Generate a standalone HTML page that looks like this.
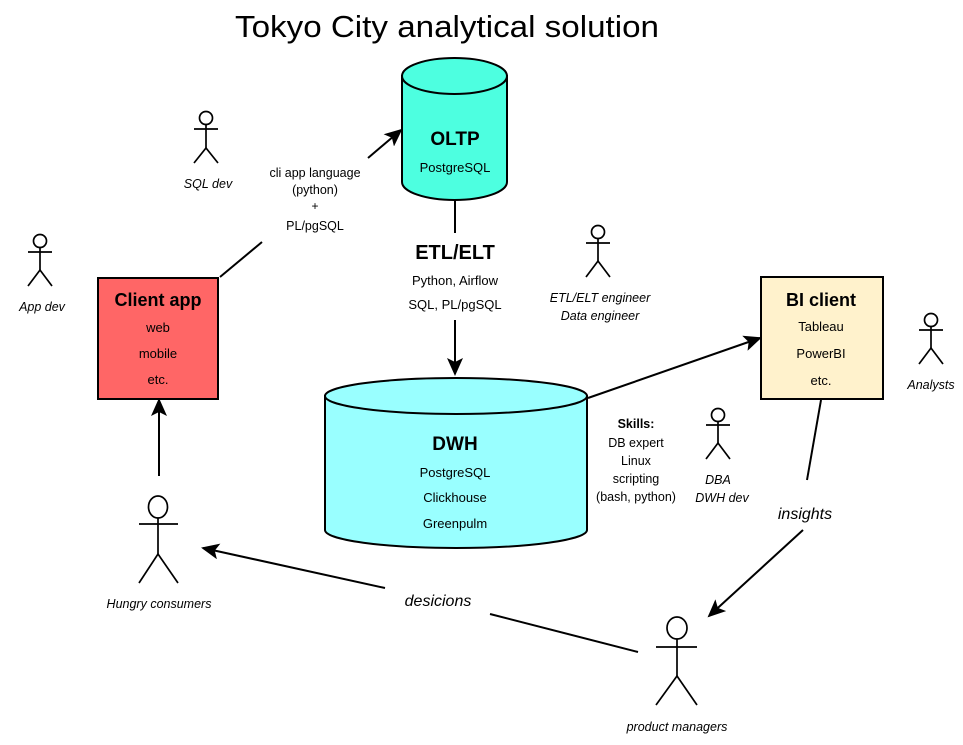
<!DOCTYPE html>
<html><head><meta charset="utf-8"><style>
html,body{margin:0;padding:0;background:#fff;}
svg{display:block;}
text{font-family:"Liberation Sans",sans-serif;fill:#000;}
.i{font-style:italic;}
</style></head><body>
<svg width="963" height="745" viewBox="0 0 963 745" xmlns="http://www.w3.org/2000/svg">
<defs>
<marker id="a" markerWidth="18" markerHeight="16" refX="16" refY="8" orient="auto" markerUnits="userSpaceOnUse">
<path d="M0,0 L18,8 L0,16 L4,8 Z" fill="#000"/>
</marker>
</defs>
<text x="447" y="37" font-size="31" text-anchor="middle" textLength="424" lengthAdjust="spacingAndGlyphs">Tokyo City analytical solution</text>

<!-- OLTP cylinder -->
<path d="M402,76 L402,182 A52.5,18 0 0 0 507,182 L507,76 Z" fill="#4DFFE0" stroke="#000" stroke-width="2"/>
<ellipse cx="454.5" cy="76" rx="52.5" ry="18" fill="#4DFFE0" stroke="#000" stroke-width="2"/>
<text x="455" y="145" font-size="19" font-weight="bold" text-anchor="middle">OLTP</text>
<text x="455" y="172" font-size="13" text-anchor="middle">PostgreSQL</text>

<!-- ETL -->
<line x1="455" y1="200" x2="455" y2="233" stroke="#000" stroke-width="2"/>
<text x="455" y="259" font-size="20" font-weight="bold" text-anchor="middle">ETL/ELT</text>
<text x="455" y="285" font-size="13" text-anchor="middle">Python, Airflow</text>
<text x="455" y="309" font-size="13" text-anchor="middle">SQL, PL/pgSQL</text>
<line x1="455" y1="320" x2="455" y2="374" stroke="#000" stroke-width="2" marker-end="url(#a)"/>

<!-- DWH cylinder -->
<path d="M325,396 L325,530 A131,18 0 0 0 587,530 L587,396 Z" fill="#99FFFF" stroke="#000" stroke-width="2"/>
<ellipse cx="456" cy="396" rx="131" ry="18" fill="#99FFFF" stroke="#000" stroke-width="2"/>
<text x="455" y="450" font-size="19" font-weight="bold" text-anchor="middle">DWH</text>
<text x="455" y="477" font-size="13" text-anchor="middle">PostgreSQL</text>
<text x="455" y="502" font-size="13" text-anchor="middle">Clickhouse</text>
<text x="455" y="528" font-size="13" text-anchor="middle">Greenpulm</text>

<!-- Client app -->
<rect x="98" y="278" width="120" height="121" fill="#FF6666" stroke="#000" stroke-width="2"/>
<text x="158" y="306" font-size="18" font-weight="bold" text-anchor="middle">Client app</text>
<text x="158" y="332" font-size="13" text-anchor="middle">web</text>
<text x="158" y="358" font-size="13" text-anchor="middle">mobile</text>
<text x="158" y="384" font-size="13" text-anchor="middle">etc.</text>

<!-- BI client -->
<rect x="761" y="277" width="122" height="122" fill="#FFF2CC" stroke="#000" stroke-width="2"/>
<text x="821" y="306" font-size="18" font-weight="bold" text-anchor="middle">BI client</text>
<text x="821" y="331" font-size="13" text-anchor="middle">Tableau</text>
<text x="821" y="358" font-size="13" text-anchor="middle">PowerBI</text>
<text x="821" y="385" font-size="13" text-anchor="middle">etc.</text>

<!-- client -> OLTP -->
<line x1="220" y1="277" x2="262" y2="242" stroke="#000" stroke-width="2"/>
<line x1="368" y1="158" x2="401" y2="130" stroke="#000" stroke-width="2" marker-end="url(#a)"/>
<text x="315" y="177" font-size="12.5" text-anchor="middle">cli app language</text>
<text x="315" y="194" font-size="12.5" text-anchor="middle">(python)</text>
<text x="315" y="210" font-size="12" text-anchor="middle">+</text>
<text x="315" y="230" font-size="12.5" text-anchor="middle">PL/pgSQL</text>

<!-- DWH -> BI -->
<line x1="588" y1="398" x2="760" y2="338" stroke="#000" stroke-width="2" marker-end="url(#a)"/>

<!-- BI -> insights -> PM -->
<line x1="821" y1="400" x2="807" y2="480" stroke="#000" stroke-width="2"/>
<text x="805" y="519" font-size="16" class="i" text-anchor="middle">insights</text>
<line x1="803" y1="530" x2="709" y2="616" stroke="#000" stroke-width="2" marker-end="url(#a)"/>

<!-- desicions -->
<line x1="638" y1="652" x2="490" y2="614" stroke="#000" stroke-width="2"/>
<text x="438" y="606" font-size="16" class="i" text-anchor="middle">desicions</text>
<line x1="385" y1="588" x2="203" y2="548" stroke="#000" stroke-width="2" marker-end="url(#a)"/>

<!-- consumers -> client app -->
<line x1="159" y1="476" x2="159" y2="400" stroke="#000" stroke-width="2" marker-end="url(#a)"/>

<!-- Skills -->
<text x="636" y="428" font-size="12.5" font-weight="bold" text-anchor="middle">Skills:</text>
<text x="636" y="447" font-size="12.5" text-anchor="middle">DB expert</text>
<text x="636" y="465" font-size="12.5" text-anchor="middle">Linux</text>
<text x="636" y="483" font-size="12.5" text-anchor="middle">scripting</text>
<text x="636" y="501" font-size="12.5" text-anchor="middle">(bash, python)</text>

<!-- stick figures -->
<g stroke="#000" stroke-width="1.7" fill="none">
 <circle cx="206" cy="118" r="6.5" fill="#fff"/>
 <line x1="206" y1="124" x2="206" y2="148"/><line x1="194" y1="129" x2="218" y2="129"/>
 <path d="M194,163 L206,148 L218,163"/>
 <circle cx="40" cy="241" r="6.5" fill="#fff"/>
 <line x1="40" y1="247" x2="40" y2="270"/><line x1="28" y1="252" x2="52" y2="252"/>
 <path d="M28,286 L40,270 L52,286"/>
 <circle cx="598" cy="232" r="6.5" fill="#fff"/>
 <line x1="598" y1="238" x2="598" y2="261"/><line x1="586" y1="243" x2="610" y2="243"/>
 <path d="M586,277 L598,261 L610,277"/>
 <circle cx="931" cy="320" r="6.5" fill="#fff"/>
 <line x1="931" y1="326" x2="931" y2="348"/><line x1="919" y1="330" x2="943" y2="330"/>
 <path d="M919,364 L931,348 L943,364"/>
 <circle cx="718" cy="415" r="6.5" fill="#fff"/>
 <line x1="718" y1="421" x2="718" y2="443"/><line x1="706" y1="425" x2="730" y2="425"/>
 <path d="M706,459 L718,443 L730,459"/>
 <ellipse cx="158" cy="507" rx="9.5" ry="11" fill="#fff"/>
 <line x1="158" y1="518" x2="158" y2="554"/><line x1="139" y1="524" x2="178" y2="524"/>
 <path d="M139,583 L158,554 L178,583"/>
 <ellipse cx="677" cy="628" rx="10" ry="11" fill="#fff"/>
 <line x1="677" y1="639" x2="677" y2="676"/><line x1="656" y1="647" x2="697" y2="647"/>
 <path d="M656,705 L677,676 L697,705"/>
</g>
<text x="208" y="188" font-size="12.5" class="i" text-anchor="middle">SQL dev</text>
<text x="42" y="311" font-size="12.5" class="i" text-anchor="middle">App dev</text>
<text x="600" y="302" font-size="12.5" class="i" text-anchor="middle">ETL/ELT engineer</text>
<text x="600" y="320" font-size="12.5" class="i" text-anchor="middle">Data engineer</text>
<text x="931" y="389" font-size="12.5" class="i" text-anchor="middle">Analysts</text>
<text x="718" y="484" font-size="12.5" class="i" text-anchor="middle">DBA</text>
<text x="722" y="502" font-size="12.5" class="i" text-anchor="middle">DWH dev</text>
<text x="159" y="608" font-size="12.5" class="i" text-anchor="middle">Hungry consumers</text>
<text x="677" y="731" font-size="12.5" class="i" text-anchor="middle">product managers</text>
</svg>
</body></html>
